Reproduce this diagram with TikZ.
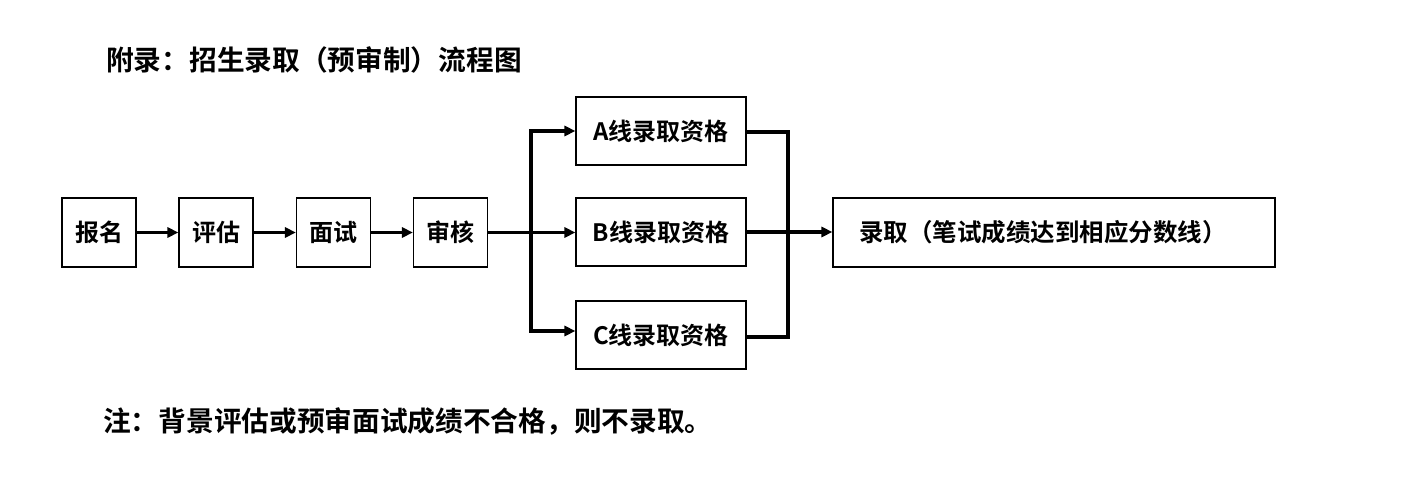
\documentclass[tikz,border=0pt]{standalone}
\usepackage{fontspec}
\setmainfont{Noto Sans CJK SC}[BoldFont={Noto Sans CJK SC Bold}]
\usetikzlibrary{arrows.meta}
\begin{document}
\begin{tikzpicture}[x=1pt,y=-1pt,
  box/.style={draw,line width=1.1pt,inner sep=0pt,font=\fontsize{24}{27}\selectfont\bfseries},
  sbox/.style={box,minimum width=74pt,minimum height=69pt},
  qbox/.style={box,minimum width=170pt,minimum height=68pt},
  conn/.style={line width=3.2pt},
  arr/.style={conn,-{Triangle[length=11pt,width=10pt]}},
  lbl/.style={anchor=west,inner sep=0pt,font=\fontsize{27.7}{31}\selectfont\bfseries}]
\useasboundingbox (0,0) rectangle (1401,481);
\node[lbl] (title) at (106,60) {附录：招生录取（预审制）流程图};
\node[sbox] (bm) at (99,232.5) {报名};
\node[sbox] (pg) at (216,232.5) {评估};
\node[sbox] (ms) at (333.5,232.5) {面试};
\node[sbox] (sh) at (450.5,232.5) {审核};
\node[qbox] (a) at (661,131) {A线录取资格};
\node[qbox] (b) at (661,232) {B线录取资格};
\node[qbox] (c) at (661,335) {C线录取资格};
\node[box,minimum width=442pt,minimum height=69pt] (lq) at (1054,232.5) {};
\node[anchor=west,inner sep=0pt,font=\fontsize{24.5}{27}\selectfont\bfseries] (lqt) at (859,232.5) {录取（笔试成绩达到相应分数线）};
\node[lbl] (note) at (103,421) {注：背景评估或预审面试成绩不合格，则不录取。};
\coordinate (s1) at (531,131);
\coordinate (s2) at (531,232.5);
\coordinate (s3) at (531,331);
\coordinate (m1) at (788,132);
\coordinate (m3) at (788,337);
\draw[arr] (bm) -- (pg);
\draw[arr] (pg) -- (ms);
\draw[arr] (ms) -- (sh);
\draw[conn] (sh.east) -- (s2);
\draw[conn,line cap=rect] (s1) -- (s3);
\draw[arr] (s1) -- (a.west);
\draw[arr] (s2) -- (b.west |- s2);
\draw[arr] (s3) -- (c.west |- s3);
\draw[conn,line join=miter] (a.east |- m1) -- (m1) -- (m3) -- (c.east |- m3);
\draw[arr] (b.east) -- (lq.west |- b.east);
\end{tikzpicture}
\end{document}
